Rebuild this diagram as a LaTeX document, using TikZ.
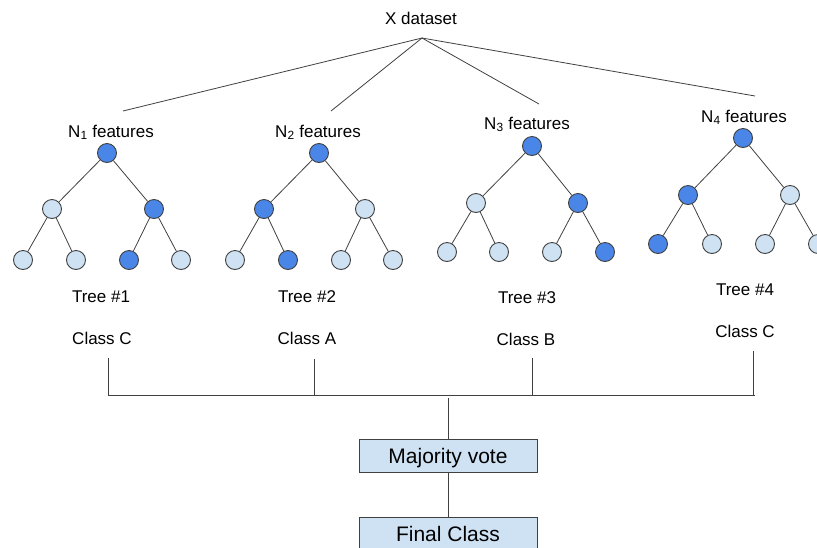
\documentclass[tikz,border=0pt]{standalone}
\usepackage{fontspec}
\setmainfont{Liberation Sans}
\definecolor{darkblue}{HTML}{4A86E8}
\definecolor{lightblue}{HTML}{CFE2F3}
\definecolor{edgegray}{HTML}{404040}
\begin{document}
\begin{tikzpicture}[x=1pt,y=-1pt,
  link/.style={draw=edgegray, line width=0.8pt},
  vertex/.style={circle, draw=edgegray, line width=0.9pt, minimum size=19pt, inner sep=0pt},
  hot/.style={vertex, fill=darkblue},
  cold/.style={vertex, fill=lightblue},
  caption/.style={font=\fontsize{17}{20}\selectfont, anchor=base, inner sep=0pt},
  votebox/.style={draw=edgegray, fill=lightblue, line width=0.9pt, minimum width=178pt,
    minimum height=33pt, inner sep=0pt, text depth=0pt, font=\fontsize{21}{24}\selectfont}
]
\useasboundingbox (0,0) rectangle (817,547);
\clip (0,0) rectangle (817,547);

% dataset and the four feature subsets
\node[caption] (data) at (421,24) {X dataset};
\coordinate (apex) at (422,38);
\coordinate (e1) at (123,111);
\coordinate (e2) at (331,111);
\coordinate (e3) at (539,104);
\coordinate (e4) at (755,96);
\foreach \e in {e1,e2,e3,e4} \draw[link] (apex) -- (\e);

\node[caption] (f1) at (111,137) {N\textsubscript{1} features};
\node[caption] (f2) at (318,137) {N\textsubscript{2} features};
\node[caption] (f3) at (527,129) {N\textsubscript{3} features};
\node[caption] (f4) at (744,122) {N\textsubscript{4} features};

% tree 1
\node[hot]  (t1r)  at (107,153) {};
\node[cold] (t1a)  at (52,209) {};
\node[hot]  (t1b)  at (154,209) {};
\node[cold] (t1aa) at (23,260) {};
\node[cold] (t1ab) at (76,260) {};
\node[hot]  (t1ba) at (129,260) {};
\node[cold] (t1bb) at (181,260) {};

% tree 2
\node[hot]  (t2r)  at (319,153) {};
\node[hot]  (t2a)  at (264,209) {};
\node[cold] (t2b)  at (365,209) {};
\node[cold] (t2aa) at (235,260) {};
\node[hot]  (t2ab) at (288,260) {};
\node[cold] (t2ba) at (341,260) {};
\node[cold] (t2bb) at (393,260) {};

% tree 3
\node[hot]  (t3r)  at (532,146) {};
\node[cold] (t3a)  at (476,203) {};
\node[hot]  (t3b)  at (578,203) {};
\node[cold] (t3aa) at (447,252) {};
\node[cold] (t3ab) at (499,252) {};
\node[cold] (t3ba) at (552,252) {};
\node[hot]  (t3bb) at (605,252) {};

% tree 4
\node[hot]  (t4r)  at (743,138) {};
\node[hot]  (t4a)  at (688,195) {};
\node[cold] (t4b)  at (790,195) {};
\node[hot]  (t4aa) at (658,244) {};
\node[cold] (t4ab) at (712,244) {};
\node[cold] (t4ba) at (765,244) {};
\node[cold] (t4bb) at (818,244) {};

\foreach \t in {1,2,3,4} {
  \draw[link] (t\t r) -- (t\t a);
  \draw[link] (t\t r) -- (t\t b);
  \draw[link] (t\t a) -- (t\t aa);
  \draw[link] (t\t a) -- (t\t ab);
  \draw[link] (t\t b) -- (t\t ba);
  \draw[link] (t\t b) -- (t\t bb);
}

% tree names and their votes
\node[caption] (n1) at (101,302) {Tree \#1};
\node[caption] (c1) at (102,344) {Class C};
\node[caption] (n2) at (307,302) {Tree \#2};
\node[caption] (c2) at (307,344) {Class A};
\node[caption] (n3) at (527,303) {Tree \#3};
\node[caption] (c3) at (526,345) {Class B};
\node[caption] (n4) at (745,295) {Tree \#4};
\node[caption] (c4) at (745,337) {Class C};

% bracket gathering the votes
\coordinate (k1) at (108,358);
\coordinate (k2) at (314,359);
\coordinate (k3) at (532,358);
\coordinate (k4) at (753,351);
\coordinate (b1) at (108,395);
\coordinate (b2) at (314,395);
\coordinate (b3) at (532,395);
\coordinate (b4) at (753,395);
\coordinate (bend) at (755,395);
\draw[link] (k1) -- (b1) -- (bend);
\draw[link] (k2) -- (b2);
\draw[link] (k3) -- (b3);
\draw[link] (k4) -- (b4);

% aggregation
\node[votebox] (vote) at (448,455.5) {Majority vote};
\node[votebox] (final) at (448,533.5) {Final Class};
\coordinate (gather) at (448,398);
\draw[link] (gather) -- (vote.north);
\draw[link] (vote) -- (final);
\end{tikzpicture}
\end{document}
